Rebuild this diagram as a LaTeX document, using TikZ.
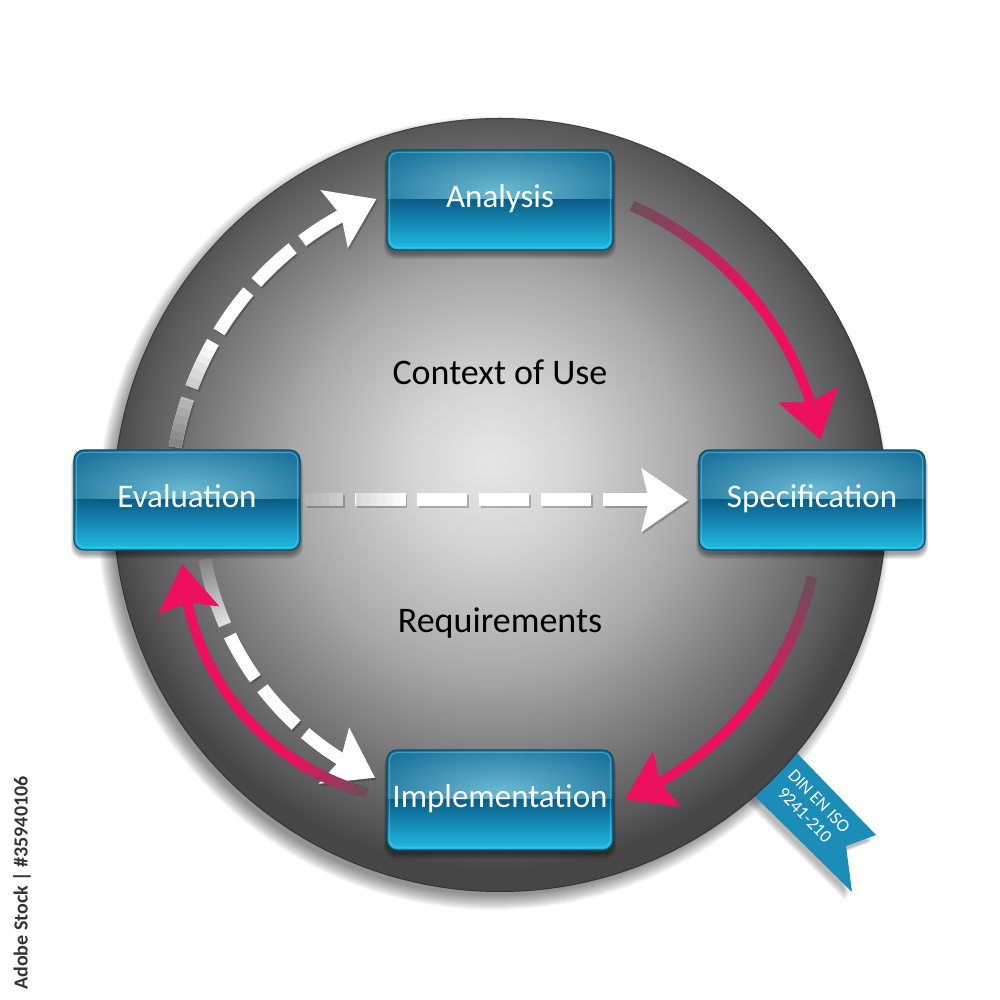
\documentclass[tikz,border=0pt]{standalone}
\usepackage{fontspec}
\setmainfont{Carlito}
\usetikzlibrary{arrows.meta,bending,calc}
\definecolor{pinkarr}{HTML}{EC105E}
\definecolor{bgdark}{HTML}{585858}
\definecolor{g0}{HTML}{E6E6E6}
\definecolor{g1}{HTML}{D6D6D6}
\definecolor{g2}{HTML}{A8A8A8}
\definecolor{g3}{HTML}{787878}
\definecolor{g4}{HTML}{5A5A5A}
\definecolor{g5}{HTML}{464646}
\definecolor{boxglow}{HTML}{6BBBD3}
\definecolor{boxtop}{HTML}{186F98}
\definecolor{boxbotA}{HTML}{0B5E88}
\definecolor{boxbotB}{HTML}{1FBDE6}
\definecolor{boxedge}{HTML}{0C4A6A}
\definecolor{boxhl}{HTML}{5CCBEA}
\definecolor{ribbonblue}{HTML}{1C8DB9}
\definecolor{wstart}{HTML}{858585}
\definecolor{hstart}{HTML}{B4B4B4}
\colorlet{pkstart}{pinkarr!12!bgdark}
\pgfdeclareradialshading{ballgray}{\pgfpoint{-0.6bp}{2.9bp}}{color(0bp)=(g0); color(5bp)=(g1); color(13bp)=(g2); color(19bp)=(g3); color(23bp)=(g4); color(25bp)=(g5); color(50bp)=(g5)}
\newcommand{\arcfade}[7]{%
  \begin{scope}[shift={(#1)}]
  \foreach \k in {1,...,#5}{
    \pgfmathsetmacro\angA{#3+(#4-#3)*(\k-1)/#5}
    \pgfmathsetmacro\angB{#3+(#4-#3)*(\k+0.3)/#5}
    \pgfmathtruncatemacro\pcnt{100*(\k-1)/(#5-1)}
    \draw[line width=#7, line cap=butt, pinkarr!\pcnt!#6] (\angA:#2) arc[start angle=\angA, end angle=\angB, radius=#2];
  }
  \end{scope}}
\newcommand{\glossbox}[4]{%
  \foreach \s in {1,...,6}{
    \fill[black, opacity=0.07, rounded corners=12pt] (#2-113-\s*0.5,#3-50-3-\s) rectangle (#2+113+\s*0.5,#3+50-3);
  }
  \begin{scope}
    \clip[rounded corners=10pt] (#2-113,#3-50) rectangle (#2+113,#3+50);
    \fill[boxtop] (#2-113,#3-50) rectangle (#2+113,#3+50);
    \shade[inner color=boxglow, outer color=boxtop] (#2,#3+8) ellipse [x radius=150pt, y radius=55pt];
    \shade[top color=boxbotA, bottom color=boxbotB] (#2-113,#3-50) rectangle (#2+113,#3);
    \draw[boxhl, opacity=0.5, line width=1.2pt, rounded corners=8pt] (#2-110.5,#3-47.5) rectangle (#2+110.5,#3+47.5);
  \end{scope}
  \node[bluebox] (#1) at (#2,#3) {#4};
}
\tikzset{
  bluebox/.style={minimum width=226pt, minimum height=100pt, rounded corners=10pt,
    draw=boxedge, line width=1.2pt, outer sep=0pt, inner sep=0pt, text=white,
    text height=23pt, text depth=7pt,
    font=\fontsize{33}{36}\selectfont},
  ctxlabel/.style={anchor=base, text=black, font=\fontsize{36}{40}\selectfont},
  pinkarrow/.style={draw=pinkarr, line width=10pt, -{Stealth[length=46pt,width=60pt,inset=7pt]}},
  whitearrow/.style={draw=white, line width=13pt, dash pattern=on 50pt off 12pt, -{Stealth[length=46pt,width=62pt,inset=7pt]}},
  castshadow/.style={draw=black, opacity=0.22, transform canvas={shift={(1.5pt,-2pt)}}},
}
\begin{document}
\begin{tikzpicture}[x=1pt,y=1pt]
\useasboundingbox (0,0) rectangle (1000,1000);
\fill[white] (0,0) rectangle (1000,1000);
\coordinate (O) at (500,495);
\coordinate (C5) at (434,450);
% soft shadow of the disc
\foreach \k in {1,...,16}{
  \pgfmathsetmacro\shr{381+\k}
  \fill[black, opacity=0.03] ($(O)+(-6,-8)$) circle[radius=\shr pt];
}
% ribbon with soft shadow
\foreach \s in {1,...,5}{
  \fill[black, opacity=0.06] ($(765,280)+(-2-\s,-3-\s)$) -- ($(876,165)+(-2-\s,-3-\s)$) -- ($(846,154)+(-2-\s,-3-\s)$) -- ($(852,108)+(-2-\s,-3-\s)$) -- ($(722,236)+(-2-\s,-3-\s)$) -- cycle;
}
\fill[ribbonblue] (765,280) -- (876,165) -- (846,154) -- (852,108) -- (722,236) -- cycle;
% disc
\shade[shading=ballgray] (O) circle[radius=387pt];
\draw[black, opacity=0.25, line width=1pt] (O) circle[radius=386.5pt];
\node[rotate=-46, text=white, font=\fontsize{18}{20}\selectfont, align=center, inner sep=0pt] (iso) at (812,192) {DIN EN ISO\\9241-210};
% side text
\node[rotate=90, anchor=west, text=black!80, font=\fontsize{20}{20}\selectfont\bfseries, inner sep=0pt] (stock) at (22,10) {Adobe Stock | \#35940106};
% labels
\node[ctxlabel] (ctx) at (500,615) {Context of Use};
\node[ctxlabel] (req) at (500,367) {Requirements};
% arc end coordinates
\begin{scope}[shift={(O)}]
  \coordinate (w1s) at (169.9:330pt);
  \coordinate (p1s) at (66.2:327pt);
  \coordinate (p4s) at (-13:320pt);
  \coordinate (w6s) at (190.5:300pt);
  \coordinate (w6m) at (205.8:300pt);
\end{scope}
\coordinate (p5s) at ($(C5)+(254.6:252pt)$);
\coordinate (hs) at (305,500);
\coordinate (he) at (688,500);
% ---- white dashed arc: Evaluation -> Analysis
\draw[whitearrow, castshadow] (w1s) arc[start angle=169.9, end angle=112, radius=330pt];
\draw[whitearrow] (w1s) arc[start angle=169.9, end angle=112, radius=330pt];
\begin{scope}[shift={(O)}]
\foreach \k in {0,...,13}{
  \pgfmathsetmacro\angA{169.9-\k*1.3889}
  \pgfmathsetmacro\angB{\angA-1.45}
  \pgfmathsetmacro\dph{\k*8}
  \pgfmathtruncatemacro\pcnt{\k*100/13}
  \draw[line width=13pt, white!\pcnt!wstart, dash pattern=on 50pt off 12pt, dash phase=\dph pt] (\angA:330pt) arc[start angle=\angA, end angle=\angB, radius=330pt];
}
\end{scope}
% ---- white dashed straight: Evaluation -> Specification
\draw[whitearrow, castshadow, dash phase=12pt] (hs) -- (he);
\draw[whitearrow, dash phase=12pt] (hs) -- (he);
\foreach \k in {0,...,12}{
  \pgfmathsetmacro\xa{305+\k*8}
  \pgfmathsetmacro\xb{\xa+8.4}
  \pgfmathsetmacro\dph{12+\k*8}
  \pgfmathtruncatemacro\pcnt{\k*100/12}
  \draw[line width=13pt, white!\pcnt!hstart, dash pattern=on 50pt off 12.5pt, dash phase=\dph pt] (\xa,500) -- (\xb,500);
}
% ---- white dashed arc: Evaluation -> Implementation
\draw[whitearrow, castshadow] (w6m) arc[start angle=205.8, end angle=245.4, radius=300pt];
\draw[whitearrow] (w6m) arc[start angle=205.8, end angle=245.4, radius=300pt];
\begin{scope}[shift={(O)}]
\foreach \k in {0,...,15}{
  \pgfmathsetmacro\angA{190.5+\k*0.8125}
  \pgfmathsetmacro\angB{\angA+0.85}
  \pgfmathtruncatemacro\pcnt{\k*75/15}
  \draw[line width=13pt, white!\pcnt!wstart] (\angA:300pt) arc[start angle=\angA, end angle=\angB, radius=300pt];
}
\end{scope}
% ---- pink arcs
\draw[pinkarrow] (p1s) arc[start angle=66.2, end angle=11.5, radius=327pt];
\arcfade{O}{327pt}{66.2}{40}{26}{pkstart}{10.6pt}
\draw[pinkarrow] (p4s) arc[start angle=-13, end angle=-67, radius=320pt];
\arcfade{O}{320pt}{-13}{-38}{25}{pkstart}{10.6pt}
\draw[pinkarrow] (p5s) arc[start angle=254.6, end angle=183.2, radius=252pt];
\arcfade{C5}{252pt}{254.6}{236}{20}{pkstart}{10.6pt}
% ---- boxes
\glossbox{ana}{500}{800}{Analysis}
\glossbox{eval}{187}{500}{Evaluation}
\glossbox{spec}{812}{500}{Specification}
\glossbox{impl}{500}{200}{Implementation}
\end{tikzpicture}
\end{document}
